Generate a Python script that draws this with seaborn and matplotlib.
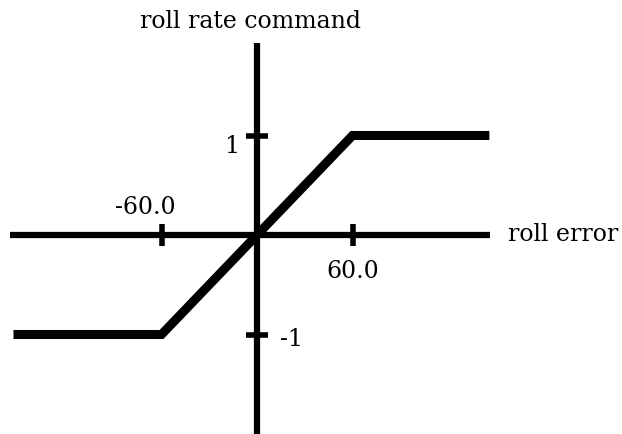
import matplotlib
matplotlib.use("Agg")
import matplotlib.pyplot as plt
import seaborn as sns
import pandas as pd

# data
roll_error = [-153, -60, 60, 146]
roll_rate_cmd = [-1, -1, 1, 1]
x_ticks = [-60, 60]
x_tick_labels = ["-60.0", "60.0"]
y_ticks = [1, -1]
y_tick_labels = ["1", "-1"]

sns.set_theme(style="white")
plt.rcParams['font.family'] = ['DejaVu Serif', 'DejaVu Sans']

W, H = 622, 434
fig = plt.figure(figsize=(W / 100, H / 100), dpi=100)
ax = fig.add_axes([0, 0, 1, 1])
ax.set_facecolor("white")

# pixel mapping
ox, oy = 257, 235
sx, sy = 191 / 120, 99.5
ax.set_xlim(-ox / sx, (W - ox) / sx)
ax.set_ylim(-(H - oy) / sy, oy / sy)

df = pd.DataFrame({"roll error": roll_error, "roll rate command": roll_rate_cmd})
sns.lineplot(data=df, x="roll error", y="roll rate command", ax=ax,
             color="black", linewidth=6.5, solid_capstyle="butt",
             solid_joinstyle="miter", sort=False, zorder=3)

# axes through origin
for s in ["top", "right"]:
    ax.spines[s].set_visible(False)
ax.spines["left"].set_position(("data", 0))
ax.spines["bottom"].set_position(("data", 0))
ax.spines["left"].set_bounds(-(H - oy) / sy, (oy - 43) / sy)
ax.spines["bottom"].set_bounds((10 - ox) / sx, (490 - ox) / sx)
for s in ["left", "bottom"]:
    ax.spines[s].set_linewidth(4.5)
    ax.spines[s].set_color("black")
    ax.spines[s].set_capstyle("butt")

ax.set_xticks(x_ticks)
ax.set_yticks(y_ticks)
ax.set_xticklabels([])
ax.set_yticklabels([])
ax.tick_params(axis="both", direction="inout", length=16, width=4,
               color="black", bottom=True, left=True)
ax.set_xlabel("")
ax.set_ylabel("")

fs = 17
x_offsets = [(-12, 15), (0, -31)]
for t, lab, (dx, dy) in zip(x_ticks, x_tick_labels, x_offsets):
    ax.annotate(lab, xy=(t, 0), xytext=(dx, dy), textcoords="offset points",
                ha="center", va="baseline", fontsize=fs, color="black")
y_offsets = [(-18, -12.6), (24.5, -8.3)]
for t, lab, (dx, dy) in zip(y_ticks, y_tick_labels, y_offsets):
    ax.annotate(lab, xy=(0, t), xytext=(dx, dy), textcoords="offset points",
                ha="center", va="baseline", fontsize=fs, color="black")

fig.text(251 / W, 1 - 28 / H, "roll rate command", ha="center", va="baseline",
         fontsize=fs, color="black")
fig.text(508 / W, 1 - 241 / H, "roll error", ha="left", va="baseline",
         fontsize=fs, color="black")

fig.savefig("out.png", dpi=100, facecolor="white")
